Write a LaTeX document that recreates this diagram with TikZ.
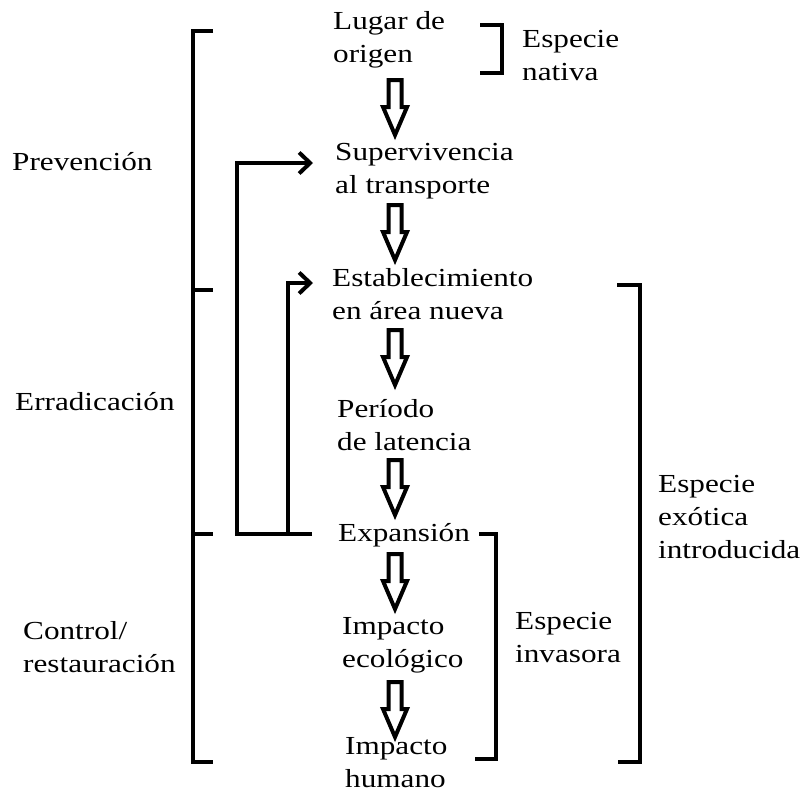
\documentclass[tikz,border=0pt]{standalone}
\usepackage{fontspec}
\setmainfont[FakeStretch=1.2]{Liberation Serif}
\usetikzlibrary{arrows.meta}
\begin{document}
\begin{tikzpicture}[x=1pt,y=-1pt,
  lbl/.style={anchor=base west,inner sep=0pt,align=left,font=\fontsize{26}{33}\selectfont},
  brk/.style={line width=4.5pt,line join=miter,line cap=butt},
  fb/.style={line width=4pt,line join=miter,-{Straight Barb[length=11pt,width=21pt,line width=4pt]}},
  hol/.style={line width=4pt,line join=miter},
  harrow/.pic={\draw[hol] (-6.5,0) -- (6.5,0) -- (6.5,27) -- (12,27) -- (0,55) -- (-12,27) -- (-6.5,27) -- cycle;}
]
\useasboundingbox (0,0) rectangle (803,793);

% main chain (anchor = baseline of last line)
\node[lbl] (orig) at (333,62) {Lugar de\\origen};
\node[lbl] (sup)  at (335,193) {Supervivencia\\al transporte};
\node[lbl] (est)  at (332,319) {Establecimiento\\en área nueva};
\node[lbl] (lat)  at (337,450) {Período\\de latencia};
\node[lbl] (exp)  at (338,541) {Expansión};
\node[lbl] (ieco) at (342,667) {Impacto\\ecológico};
\node[lbl] (ihum) at (345,787) {Impacto\\humano};

% right labels
\node[lbl] (nat) at (522,80) {Especie\\nativa};
\node[lbl] (inv) at (515,662) {Especie\\invasora};
\node[lbl] (exo) at (658,558) {Especie\\exótica\\introducida};

% left labels
\node[lbl] (prev)  at (12,170) {Prevención};
\node[lbl] (errad) at (15,410) {Erradicación};
\node[lbl] (ctrl)  at (23,672) {Control/\\restauración};

% hollow arrows
\pic at (395,80)  {harrow};
\pic at (395,205) {harrow};
\pic at (395,330) {harrow};
\pic at (395,460) {harrow};
\pic at (395,554) {harrow};
\pic at (395,682) {harrow};

% brackets
\draw[brk] (213,31) -- (193,31) -- (193,762) -- (213,762);
\draw[brk] (193,290) -- (213,290);
\draw[brk] (193,534) -- (213,534);
\draw[brk] (480,25) -- (502,25) -- (502,73) -- (480,73);
\draw[brk] (479,534) -- (496,534) -- (496,759) -- (475,759);
\draw[brk] (617,285) -- (640,285) -- (640,762) -- (618,762);

% feedback arrows
\coordinate (fbA) at (312,534);
\coordinate (fbB) at (313,163);
\coordinate (fbC) at (313,283);
\draw[fb] (fbA) -- (237,534) -- (237,163) -- (fbB);
\draw[fb] (288,534) -- (288,283) -- (fbC);
\end{tikzpicture}
\end{document}
